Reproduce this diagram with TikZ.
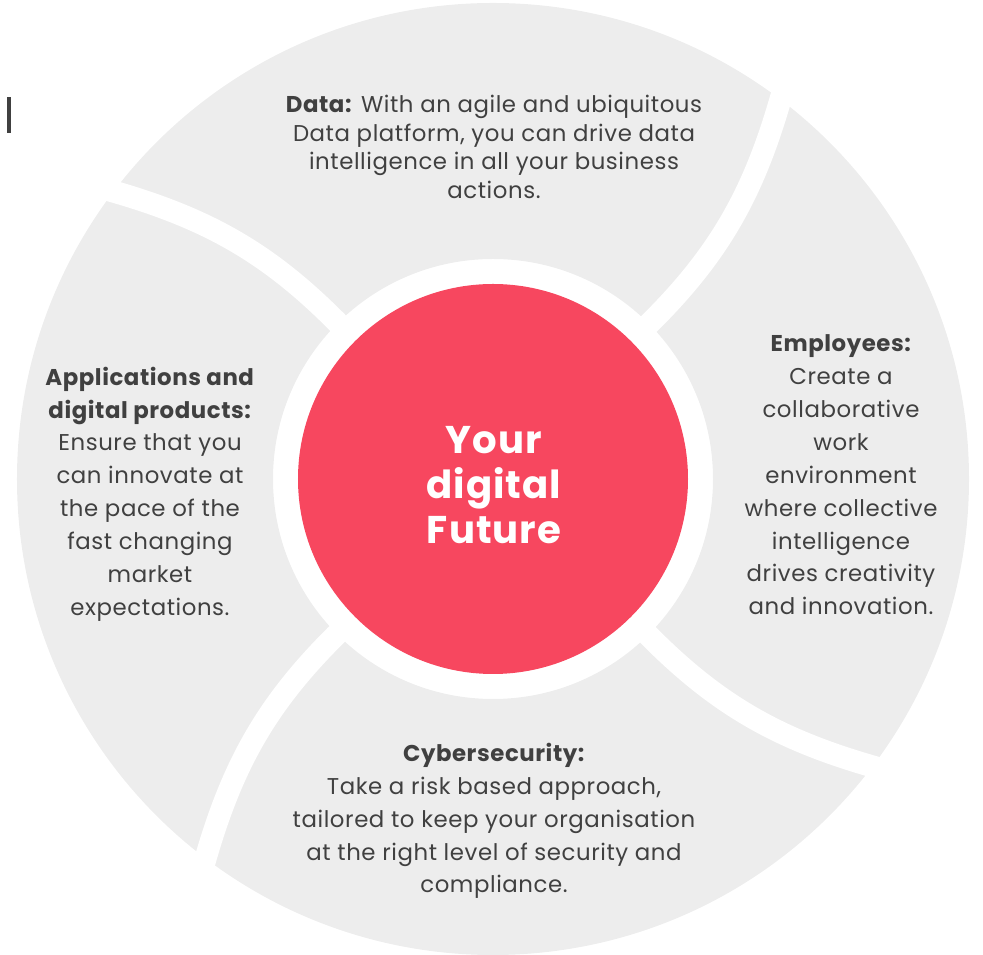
\documentclass[tikz,border=0pt]{standalone}
\usepackage{fontspec}
\setmainfont{Poppins}[LetterSpace=2.5]
\definecolor{ringgray}{HTML}{EDEDED}
\definecolor{futurered}{HTML}{F7475F}
\definecolor{textgray}{HTML}{404040}

\begin{document}
\begin{tikzpicture}[x=0.02cm,y=0.02cm,
  blurb/.style={align=center,text=textgray,font=\fontsize{13}{18.7}\selectfont},
  gap/.style={white,line width=0.44cm}]
  \useasboundingbox (-493,-476) rectangle (490,479);
  % grey ring and the four cuts
  \fill[ringgray,even odd rule] (0,0) circle (476) (0,0) circle (220);
  \foreach \a in {45,135,225,315} {
    \draw[gap] (\a:190) to[bend right=16] (\a+8.5:490);
  }
  \fill[futurered] (0,0) circle (195);
  \fill[textgray] (-486,346) rectangle (-482,382);
  \node[align=center,text=white,font=\bfseries\fontsize{22}{25.5}\selectfont] (future) at (1,-6) {Your\\digital\\Future};
  \node[blurb,font=\fontsize{13}{16.4}\selectfont] (data) at (1,332) {\textbf{Data:} With an agile and ubiquitous\\Data platform, you can drive data\\intelligence in all your business\\actions.};
  \node[blurb] (employees) at (348,4) {\textbf{Employees:}\\Create a\\collaborative\\work\\environment\\where collective\\intelligence\\drives creativity\\and innovation.};
  \node[blurb] (apps) at (-343,-15) {\textbf{Applications and}\\\textbf{digital products:}\\Ensure that you\\can innovate at\\the pace of the\\fast changing\\market\\expectations.};
  \node[blurb] (cyber) at (1,-342) {\textbf{Cybersecurity:}\\Take a risk based approach,\\tailored to keep your organisation\\at the right level of security and\\compliance.};
\end{tikzpicture}
\end{document}
